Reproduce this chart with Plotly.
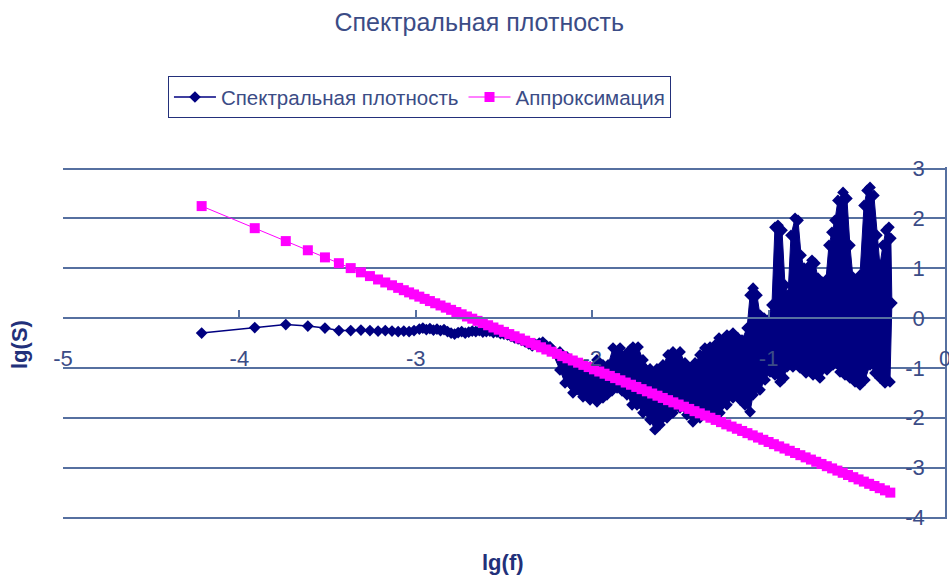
import plotly.graph_objects as go

# ---- data (lg f, lg S) ----
# low-frequency part of the spectral density (individual points + thin band)
spec_x = [-4.214, -3.913, -3.737, -3.612, -3.515, -3.436, -3.369, -3.311, -3.260, -3.214,
          -3.173, -3.135, -3.100, -3.068, -3.038, -3.010,
          -2.98, -2.96, -2.94, -2.92, -2.90, -2.88, -2.86, -2.84, -2.82, -2.80,
          -2.78, -2.76, -2.74, -2.72, -2.70, -2.68, -2.66, -2.64, -2.62, -2.60,
          -2.58, -2.56, -2.54, -2.52, -2.50, -2.48, -2.46, -2.44, -2.42, -2.40,
          -2.38, -2.36, -2.34, -2.32, -2.30, -2.28, -2.26, -2.24]
spec_y = [-0.30, -0.19, -0.13, -0.16, -0.20, -0.25, -0.25, -0.24, -0.25, -0.26,
          -0.25, -0.26, -0.27, -0.26, -0.27, -0.25,
          -0.22, -0.20, -0.23, -0.21, -0.24, -0.22, -0.25, -0.23, -0.27, -0.30,
          -0.32, -0.29, -0.27, -0.30, -0.28, -0.26, -0.27, -0.25, -0.28, -0.27,
          -0.26, -0.29, -0.28, -0.31, -0.32, -0.34, -0.37, -0.40, -0.42, -0.45,
          -0.48, -0.52, -0.56, -0.53, -0.50, -0.48, -0.55, -0.58]

# dense high-frequency part: upper and lower envelope of the point cloud
upper_x = [-2.239, -2.183, -2.143, -2.098, -2.052, -2.012, -1.973, -1.939, -1.910, -1.882,
           -1.842, -1.814, -1.786, -1.769, -1.740, -1.712, -1.672, -1.633, -1.599, -1.570,
           -1.542, -1.502, -1.474, -1.446, -1.417, -1.389, -1.361, -1.332, -1.304, -1.281,
           -1.259, -1.236, -1.202, -1.173, -1.151, -1.122, -1.105, -1.088, -1.066, -1.049,
           -1.026, -1.003, -0.981, -0.964, -0.947, -0.924, -0.907, -0.890, -0.873, -0.850,
           -0.833, -0.816, -0.799, -0.777, -0.754, -0.737, -0.720, -0.697, -0.675, -0.658,
           -0.641, -0.624, -0.607, -0.578, -0.556, -0.539, -0.522, -0.499, -0.482, -0.459,
           -0.442, -0.425, -0.403, -0.386, -0.369, -0.352, -0.335, -0.318, -0.307, -0.301]
upper_y = [-0.58, -0.68, -0.78, -0.90, -0.98, -0.98, -0.84, -0.94, -0.94, -0.60,
           -0.60, -0.74, -0.64, -0.58, -0.58, -0.84, -1.02, -1.02, -0.94, -0.74,
           -0.68, -0.68, -0.90, -1.00, -0.90, -0.74, -0.60, -0.58, -0.54, -0.40,
           -0.48, -0.34, -0.30, -0.40, -0.44, -0.20, 0.46, 0.60, 0.46, 0.06,
           0.00, -0.04, 0.26, 1.82, 1.86, 1.76, 0.66, 0.46, 1.66, 2.00,
           1.96, 1.26, 1.00, 1.02, 1.16, 1.10, 0.80, 0.72, 0.76, 1.46,
           1.72, 1.96, 2.36, 2.52, 2.40, 1.46, 0.82, 0.72, 0.86, 2.26,
           2.56, 2.62, 2.46, 1.66, 1.06, 1.46, 1.76, 1.82, 1.60, 0.30]
lower_x = [-2.239, -2.183, -2.154, -2.109, -2.052, -2.012, -1.973, -1.939, -1.916, -1.888,
           -1.859, -1.831, -1.803, -1.774, -1.746, -1.712, -1.672, -1.644, -1.616, -1.599,
           -1.576, -1.542, -1.502, -1.463, -1.429, -1.389, -1.349, -1.315, -1.276, -1.236,
           -1.202, -1.162, -1.134, -1.105, -1.088, -1.049, -1.020, -0.992, -0.964, -0.935,
           -0.913, -0.896, -0.862, -0.822, -0.788, -0.748, -0.709, -0.669, -0.635, -0.595,
           -0.567, -0.539, -0.510, -0.482, -0.454, -0.425, -0.397, -0.369, -0.340, -0.312]
lower_y = [-0.58, -1.04, -1.30, -1.50, -1.58, -1.64, -1.68, -1.60, -1.54, -1.46,
           -1.40, -1.46, -1.54, -1.74, -1.74, -1.90, -2.04, -2.24, -2.14, -2.00,
           -2.00, -1.90, -1.80, -1.94, -2.08, -2.00, -1.94, -1.90, -1.90, -1.74,
           -1.60, -1.64, -1.74, -1.88, -1.54, -1.44, -1.24, -1.08, -1.14, -1.28,
           -1.20, -0.98, -0.98, -1.00, -1.10, -1.14, -1.20, -1.04, -0.94, -1.08,
           -1.14, -1.20, -1.28, -1.34, -1.24, -0.94, -1.10, -1.20, -1.30, -1.28]

# approximation (linear fit in log-log coordinates)
approx_x = [-4.214, -3.913, -3.737, -3.612, -3.515, -3.436, -3.369, -3.311, -3.260, -3.214,
            -3.173, -3.135, -3.100, -3.068, -3.038, -3.010,
            -2.98, -2.95, -2.92, -2.89, -2.86, -2.83, -2.80, -2.77, -2.74, -2.71,
            -2.68, -2.65, -2.62, -2.59, -2.56, -2.53, -2.50, -2.47, -2.44, -2.41,
            -2.38, -2.35, -2.32, -2.29, -2.26, -2.23, -2.20, -2.17, -2.14, -2.11,
            -2.08, -2.05, -2.02, -1.99, -1.96, -1.93, -1.90, -1.87, -1.84, -1.81,
            -1.78, -1.75, -1.72, -1.69, -1.66, -1.63, -1.60, -1.57, -1.54, -1.51,
            -1.48, -1.45, -1.42, -1.39, -1.36, -1.33, -1.30, -1.27, -1.24, -1.21,
            -1.18, -1.15, -1.12, -1.09, -1.06, -1.03, -1.00, -0.97, -0.94, -0.91,
            -0.88, -0.85, -0.82, -0.79, -0.76, -0.73, -0.70, -0.67, -0.64, -0.61,
            -0.58, -0.55, -0.52, -0.49, -0.46, -0.43, -0.40, -0.37, -0.34, -0.31]
approx_y = [2.246, 1.803, 1.544, 1.360, 1.217, 1.101, 1.002, 0.917, 0.842, 0.774,
            0.714, 0.658, 0.606, 0.559, 0.515, 0.474,
            0.430, 0.385, 0.341, 0.297, 0.253, 0.209, 0.165, 0.121, 0.076, 0.032,
            -0.012, -0.056, -0.100, -0.144, -0.189, -0.233, -0.277, -0.321, -0.365, -0.409,
            -0.453, -0.498, -0.542, -0.586, -0.630, -0.674, -0.718, -0.763, -0.807, -0.851,
            -0.895, -0.939, -0.983, -1.028, -1.072, -1.116, -1.160, -1.204, -1.248, -1.293,
            -1.337, -1.381, -1.425, -1.469, -1.513, -1.557, -1.602, -1.646, -1.690, -1.734,
            -1.778, -1.822, -1.867, -1.911, -1.955, -1.999, -2.043, -2.087, -2.132, -2.176,
            -2.220, -2.264, -2.308, -2.352, -2.397, -2.441, -2.485, -2.529, -2.573, -2.617,
            -2.662, -2.706, -2.750, -2.794, -2.838, -2.882, -2.926, -2.971, -3.015, -3.059,
            -3.103, -3.147, -3.191, -3.236, -3.280, -3.324, -3.368, -3.412, -3.456, -3.501]

x_tickvals = [-5, -4, -3, -2, -1, 0]
x_ticktext = ["-5", "-4", "-3", "-2", "-1", "0"]
y_tickvals = [-4, -3, -2, -1, 0, 1, 2, 3]
y_ticktext = ["-4", "-3", "-2", "-1", "0", "1", "2", "3"]

NAVY = "#000080"
PINK = "#FF00FF"
GRID = "#5670a0"
TXT = "#3b4c86"
FONT = "Liberation Sans, Arial, sans-serif"
YR = [-4.03, 3.03]

fig = go.Figure()
fig.add_trace(go.Scatter(
    x=spec_x, y=spec_y, mode="lines+markers", name="Спектральная плотность",
    line=dict(color=NAVY, width=1.5),
    marker=dict(symbol="diamond", size=9, color=NAVY),
))
cloud_x = upper_x + lower_x[::-1]
cloud_y = upper_y + lower_y[::-1]
fig.add_trace(go.Scatter(
    x=cloud_x, y=cloud_y, mode="lines+markers", fill="toself", fillcolor=NAVY,
    line=dict(color=NAVY, width=1),
    marker=dict(symbol="diamond", size=9, color=NAVY),
    showlegend=False, hoverinfo="skip",
))
fig.add_trace(go.Scatter(
    x=approx_x, y=approx_y, mode="lines+markers", name="Аппроксимация",
    yaxis="y2",
    line=dict(color=PINK, width=1),
    marker=dict(symbol="square", size=10, color=PINK),
))

fig.update_layout(
    width=949, height=577,
    margin=dict(l=63, r=4, t=167, b=58, autoexpand=False),
    paper_bgcolor="white", plot_bgcolor="white",
    font=dict(family=FONT, color=TXT),
    title=dict(text="Спектральная плотность", x=0.505, xanchor="center",
               y=0.962, yanchor="middle", font=dict(size=25, color=TXT)),
    showlegend=True,
    legend=dict(orientation="h", x=0.119, y=1.258, xanchor="left", yanchor="top",
                bordercolor="#23307a", borderwidth=1, bgcolor="white",
                font=dict(size=20.5, color=TXT), itemwidth=42),
    xaxis=dict(range=[-5, 0], anchor="free", position=4.03 / 7.06,
               tickvals=x_tickvals, ticktext=x_ticktext,
               showgrid=False, zeroline=False,
               showline=True, linecolor=GRID, linewidth=1.5,
               ticks="inside", ticklen=7, tickwidth=1.5, tickcolor=GRID,
               ticklabelstandoff=21, ticklabeloverflow="allow",
               tickfont=dict(size=22, color=TXT)),
    yaxis=dict(range=YR, side="right", showticklabels=False,
               tickvals=y_tickvals,
               showgrid=True, gridcolor=GRID, gridwidth=1.5, zeroline=False,
               showline=True, linecolor=GRID, linewidth=1.5, ticks=""),
    yaxis2=dict(range=YR, overlaying="y", side="left", anchor="free", position=0.977,
                tickvals=y_tickvals, ticktext=y_ticktext,
                showgrid=False, zeroline=False, showline=False, ticks="",
                tickfont=dict(size=22, color=TXT)),
    annotations=[
        dict(text="<b>lg(S)</b>", x=19, y=345, xref="paper", yref="paper",
             xanchor="center", yanchor="middle",
             showarrow=False, textangle=-90, font=dict(size=22, color="#22307a")),
        dict(text="<b>lg(f)</b>", x=503, y=562, xref="paper", yref="paper",
             xanchor="center", yanchor="middle",
             showarrow=False, font=dict(size=22, color="#22307a")),
    ],
)
# convert pixel placements of axis titles to paper coords
W, H = 949 - 63 - 4, 577 - 167 - 58
for a in fig.layout.annotations:
    a.x = (a.x - 63) / W
    a.y = (577 - 58 - a.y) / H

fig.write_html("out.html", config={"displayModeBar": False},
               post_script="document.body.style.margin='0px';")
